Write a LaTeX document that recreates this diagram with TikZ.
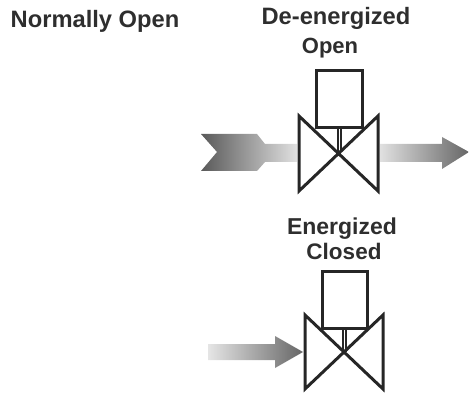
\documentclass[tikz,border=0pt]{standalone}
\usepackage{fontspec}
\setmainfont{Liberation Sans}
\tikzset{
  lbl/.style={font=\bfseries\fontsize{#1}{#1}\selectfont,text=black!82,inner sep=0pt,anchor=base},
  valveline/.style={draw=black!85,line width=3pt,line join=miter,fill=none},
}
\begin{document}
\begin{tikzpicture}[x=1pt,y=-1pt]
\useasboundingbox (0,0) rectangle (469,393);
% arrows
\path[left color=black!65,right color=black!12,draw=none]
 (201,134) -- (257,134) -- (265,144) -- (297,144) -- (297,162) -- (265,162) -- (257,171) -- (201,171) -- (217,152) -- cycle;
\path[left color=black!12,right color=black!60,draw=none]
 (380,144) -- (442,144) -- (442,137) -- (469,152) -- (442,169) -- (442,162) -- (380,162) -- cycle;
\path[left color=black!10,right color=black!60,draw=none]
 (208,344) -- (275,344) -- (275,336) -- (303,352) -- (275,368) -- (275,360) -- (208,360) -- cycle;
% top valve
\node[valveline,minimum width=46pt,minimum height=57pt,inner sep=0pt] (boxA) at (339,99.5) {};
\coordinate (cA) at (339,152);
\path[valveline] (299,116) -- (378,191) -- (378,116) -- (299,191) -- cycle;
\draw[valveline,line width=2pt] (337.5,128) -- (337.5,152) (340.5,128) -- (340.5,152);
% bottom valve
\node[valveline,minimum width=45pt,minimum height=57pt,inner sep=0pt] (boxB) at (344.5,299.5) {};
\coordinate (cB) at (344,352);
\path[valveline] (305,315) -- (383,389) -- (383,315) -- (305,389) -- cycle;
\draw[valveline,line width=2pt] (342.5,328) -- (342.5,352) (345.5,328) -- (345.5,352);
% labels
\node[lbl=23.7] (title) at (95,28) {Normally Open};
\node[lbl=23.7] (de) at (336,25) {De-energized};
\node[lbl=22] (op) at (330,54) {Open};
\node[lbl=23] (en) at (342,235) {Energized};
\node[lbl=22.5] (cl) at (344,259) {Closed};
\end{tikzpicture}
\end{document}
